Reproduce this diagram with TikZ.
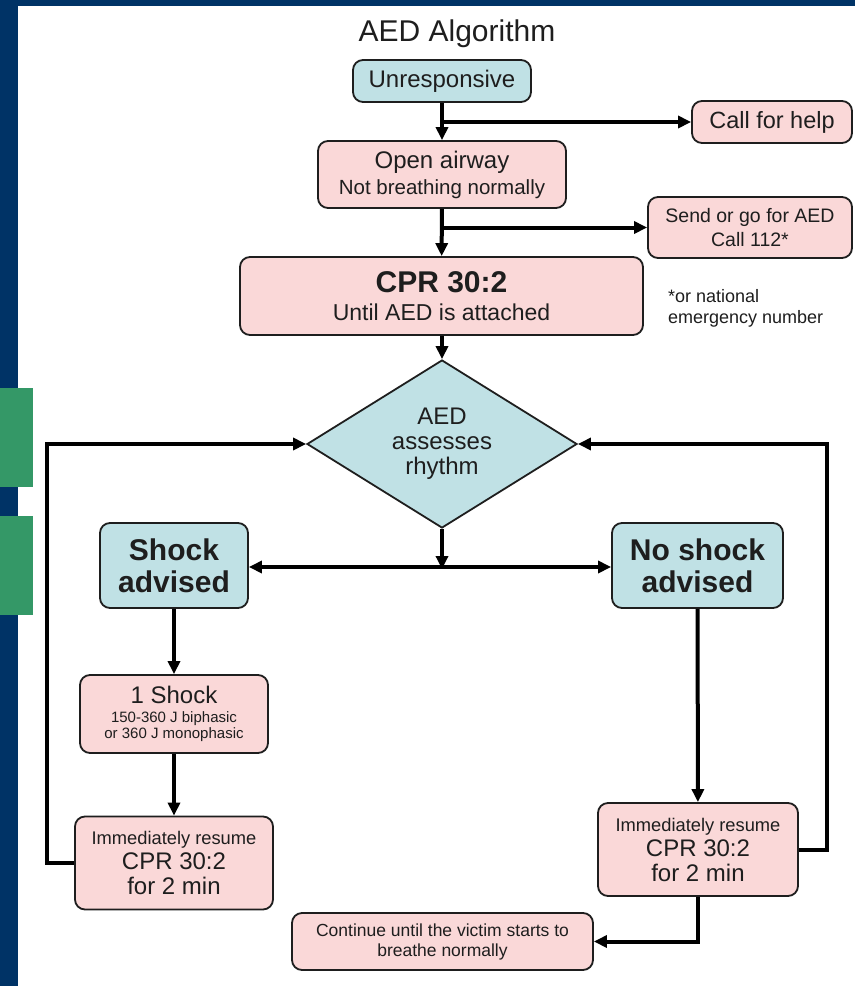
\documentclass[tikz,border=0pt]{standalone}
\usepackage{fontspec}
\setmainfont{Liberation Sans}
\usetikzlibrary{arrows.meta,shapes.geometric,calc}
\definecolor{navy}{RGB}{0,51,102}
\definecolor{grn}{RGB}{52,152,103}
\definecolor{bluebox}{RGB}{192,225,229}
\definecolor{pinkbox}{RGB}{250,216,216}
\definecolor{ink}{RGB}{30,30,30}
\begin{document}
\begin{tikzpicture}[x=1pt,y=-1pt,
  box/.style={draw=ink, line width=1.8pt, rounded corners=10pt, align=center, text=ink, inner sep=0pt},
  pinkb/.style={box, fill=pinkbox},
  blueb/.style={box, fill=bluebox},
  arr/.style={line width=4pt, draw=black, -{Triangle[length=13pt,width=12pt]}},
  dblarr/.style={line width=4pt, draw=black, {Triangle[length=13pt,width=12pt]}-{Triangle[length=13pt,width=12pt]}},
]
\useasboundingbox (0,0) rectangle (855,986);
\fill[white] (0,0) rectangle (855,986);
\fill[navy] (0,0) rectangle (18,986);
\fill[navy] (0,0) rectangle (855,5.5);
\fill[grn] (0,388) rectangle (33,487);
\fill[grn] (0,516) rectangle (33,615);

\node[anchor=base, font=\fontsize{30}{32}\selectfont, text=ink, inner sep=0pt] (title) at (457,41) {AED Algorithm};

\node[blueb, minimum width=178pt, minimum height=42pt, font=\fontsize{24}{28}\selectfont] (unr) at (442,81) {Unresponsive};
\node[pinkb, minimum width=160pt, minimum height=42pt, font=\fontsize{23.5}{28}\selectfont] (help) at (772,122) {Call for help};
\node[pinkb, minimum width=248pt, minimum height=67pt, font=\fontsize{24}{26}\selectfont] (open) at (442,174.5) {Open airway\\{\fontsize{20.5}{26}\selectfont Not breathing normally}};
\node[pinkb, minimum width=204pt, minimum height=61pt, font=\fontsize{19.5}{24}\selectfont] (send) at (750,227.5) {Send or go for AED\\Call 112*};
\node[pinkb, minimum width=403pt, minimum height=78pt, font=\fontsize{23}{28}\selectfont] (cpr) at (441.5,296) {{\fontsize{30}{30}\selectfont\bfseries CPR 30:2}\\Until AED is attached};
\node[anchor=west, align=left, text=ink, font=\fontsize{18}{21}\selectfont, inner sep=0pt] (note) at (668,308) {*or national\\emergency number};

\node[diamond, draw=ink, line width=1.8pt, fill=bluebox, minimum width=270pt, minimum height=168pt, inner sep=0pt, aspect=1.6, align=center, text=ink, font=\fontsize{24}{25}\selectfont] (dia) at (442,444) {AED\\assesses\\rhythm};

\node[blueb, minimum width=148pt, minimum height=85pt, font=\fontsize{30}{32}\selectfont\bfseries] (shock) at (174,565.5) {Shock\\advised};
\node[blueb, minimum width=171pt, minimum height=85pt, font=\fontsize{30}{32}\selectfont\bfseries] (noshock) at (697.5,565.5) {No shock\\advised};

\node[pinkb, minimum width=188pt, minimum height=78pt, font=\fontsize{15}{16.5}\selectfont] (one) at (174,714) {{\fontsize{24}{26}\selectfont 1 Shock}\\[2pt]150-360 J biphasic\\or 360 J monophasic};

\node[pinkb, minimum width=198pt, minimum height=93pt, font=\fontsize{24}{25}\selectfont] (resL) at (174,863) {{\fontsize{18.3}{25}\selectfont Immediately resume}\\CPR 30:2\\for 2 min};
\node[pinkb, minimum width=200pt, minimum height=93pt, font=\fontsize{24}{25}\selectfont] (resR) at (698,849.5) {{\fontsize{18.3}{25}\selectfont Immediately resume}\\CPR 30:2\\for 2 min};

\node[pinkb, minimum width=301pt, minimum height=57pt, font=\fontsize{17.5}{20}\selectfont] (cont) at (442.5,941.5) {Continue until the victim starts to\\breathe normally};

\coordinate (mid) at (442,567);

\draw[arr] (unr) -- (open);
\draw[arr] (unr.south |- help.west) -- (help.west);
\draw[arr] (open) -- (cpr);
\draw[arr] (open.south |- send.west) -- (send.west);
\draw[arr] (cpr.south -| dia.north) -- (dia.north);
\draw[arr] (dia.south) -- ([yshift=-2pt]mid);
\draw[dblarr] (shock.east |- mid) -- (noshock.west |- mid);
\draw[arr] (shock) -- (one);
\draw[arr] (one) -- (resL);
\draw[arr] (noshock) -- (resR);
\draw[arr] (resL.west) -- ++(-27,0) |- (dia.west);
\draw[arr] (resR.east) -- ++(28,0) |- (dia.east);
\draw[arr] (resR.south) |- (cont.east);
\end{tikzpicture}
\end{document}
